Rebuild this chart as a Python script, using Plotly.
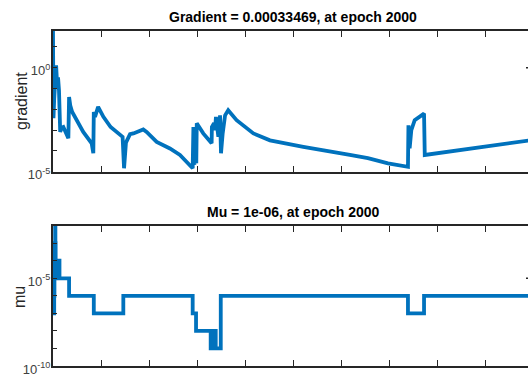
import plotly.graph_objects as go

# ---- data -------------------------------------------------------------
grad_epochs = [0, 2, 5, 13, 16, 18, 21, 25, 30, 36, 43, 50, 60, 64, 67, 72, 80, 98,
               126, 161, 168, 170, 175, 188, 210, 240, 272, 290, 296, 304, 321, 335,
               376, 390, 432, 487, 529, 571, 582, 585, 589, 593, 597, 599, 626, 661,
               662, 671, 675, 679, 689, 696, 700, 707, 717, 730, 765, 835, 904, 1043,
               1182, 1237, 1312, 1396, 1479, 1481, 1486, 1493, 1507, 1546, 1549, 2000]
grad_values = [60, 3.7e-3, 3.2e-2, 1.3, 0.25, 0.10, 0.34, 0.081, 8.1e-4, 1.3e-3,
               1.4e-3, 9.8e-4, 5.6e-4, 4.0e-4, 0.039, 0.015, 7.4e-3, 3.0e-3,
               8.1e-4, 2.3e-4, 7.6e-5, 7.4e-3, 4.3e-3, 0.013, 4.3e-3, 1.4e-3, 6.9e-4,
               4.7e-4, 1.45e-5, 2.5e-4, 6.3e-4, 6.9e-4, 1.07e-3, 8.1e-4, 2.7e-4,
               1.3e-4, 6.3e-5, 2.1e-5, 1.45e-5, 1.4e-3, 2.1e-5, 1.4e-3, 2.5e-5,
               2.1e-3, 6.9e-4, 2.3e-4, 1.4e-3, 2.1e-3, 9.8e-4, 4.3e-3, 4.7e-4,
               5.1e-3, 7.6e-5, 6.9e-4, 5.1e-3, 8.9e-3, 3.0e-3, 6.9e-4, 3.2e-4,
               1.55e-4, 7.6e-5, 6.3e-5, 4.4e-5, 2.5e-5, 1.7e-5, 1.7e-3, 1.3e-4,
               1.0e-3, 3.0e-3, 6.2e-3, 6.3e-5, 0.00033469]

mu_epochs = [0, 1, 2, 3, 4, 5, 6, 7, 8, 9, 10, 11, 15, 16, 19, 20, 23, 24, 27,
             67, 170, 293, 582, 596, 657, 660, 663, 667, 670, 674, 678, 699,
             1479, 1546, 2000]
mu_values = [1e-3, 1e-4, 1e-5, 1e-6, 1e-7, 1e-6, 1e-5, 1e-4, 1e-3, 1e-2, 1e-3,
             1e-4, 1e-5, 1e-4, 1e-5, 1e-4, 1e-5, 1e-4, 1e-5,
             1e-6, 1e-7, 1e-6, 1e-7, 1e-8, 1e-9, 1e-8, 1e-9, 1e-8, 1e-9, 1e-8,
             1e-9, 1e-6, 1e-7, 1e-6, 1e-6]

x_ticks = list(range(0, 2001, 200))
grad_decades = list(range(-5, 2))
grad_labels = {-5: "10<sup>-5</sup>", 0: "10<sup>0</sup>"}
mu_decades = list(range(-10, -1))
mu_labels = {-10: "10<sup>-10</sup>", -5: "10<sup>-5</sup>"}

# ---- layout constants ---------------------------------------------------
W, H = 528, 381
ML = 53                       # left margin (px)
X_FULL_PX = 480               # pixel width of the full 0..2000 epoch axis
X_END = 2000 * (W - ML) / X_FULL_PX
GRAD_RANGE = [-5, 1.78]
MU_RANGE = [-10, -2]
BLUE = "#0072BD"
AX = "#262626"


def py(p):
    return 1 - p / H


def px(p):
    return (p - ML) / (W - ML)


fig = go.Figure()
fig.add_trace(go.Scatter(x=grad_epochs, y=grad_values, mode="lines",
                         line=dict(color=BLUE, width=3.8),
                         xaxis="x", yaxis="y", showlegend=False))
fig.add_trace(go.Scatter(x=mu_epochs, y=mu_values, mode="lines",
                         line=dict(color=BLUE, width=3.8, shape="hv"),
                         xaxis="x2", yaxis="y2", showlegend=False))

xcommon = dict(range=[0, X_END], tickvals=x_ticks, showticklabels=False,
               ticks="inside", ticklen=6, tickwidth=1, tickcolor=AX,
               showline=True, linecolor=AX, linewidth=2, mirror="ticks",
               showgrid=False, zeroline=False, automargin=False)
ycommon = dict(type="log", ticks="inside", ticklen=4, tickwidth=1,
               tickcolor=AX, showline=True, linecolor=AX, linewidth=2,
               mirror=False, showgrid=False, zeroline=False, automargin=False,
               tickfont=dict(family="Liberation Sans, Arial", size=13,
                             color="#404040"),
               ticklabelstandoff=-2, ticklabelshift=3)

fig.update_layout(
    template="none",
    width=W, height=H,
    margin=dict(l=ML, r=0, t=0, b=0, autoexpand=False),
    paper_bgcolor="white", plot_bgcolor="white",
    xaxis=dict(domain=[0, 1], anchor="y", **xcommon),
    xaxis2=dict(domain=[0, 1], anchor="y2", **xcommon),
    yaxis=dict(domain=[py(171.6), py(30.7)], anchor="x", range=GRAD_RANGE,
               tickvals=[10 ** d for d in grad_decades],
               ticktext=[grad_labels.get(d, "") for d in grad_decades],
               **ycommon),
    yaxis2=dict(domain=[py(366), py(225.7)], anchor="x2", range=MU_RANGE,
                tickvals=[10 ** d for d in mu_decades],
                ticktext=[mu_labels.get(d, "") for d in mu_decades],
                **ycommon),
)

title_font = dict(family="Liberation Sans, Arial", size=14, color="black",
                  weight="bold")
label_font = dict(family="Liberation Sans, Arial", size=16, color=AX)
centre = px(ML + X_FULL_PX / 2)

fig.add_annotation(text=f"Gradient = {grad_values[-1]:.8g}, at epoch {grad_epochs[-1]}",
                   x=centre, y=py(16.5), xref="paper", yref="paper",
                   xanchor="center", yanchor="middle", showarrow=False,
                   font=title_font)
fig.add_annotation(text=f"Mu = {mu_values[-1]:.0e}, at epoch {mu_epochs[-1]}",
                   x=centre, y=py(212), xref="paper", yref="paper",
                   xanchor="center", yanchor="middle", showarrow=False,
                   font=title_font)
fig.add_annotation(text="gradient", textangle=-90, x=px(21), y=py(101),
                   xref="paper", yref="paper", xanchor="center",
                   yanchor="middle", showarrow=False, font=label_font)
fig.add_annotation(text="mu", textangle=-90, x=px(19), y=py(297),
                   xref="paper", yref="paper", xanchor="center",
                   yanchor="middle", showarrow=False, font=label_font)

# stubs of the right-hand major ticks at the cropped edge
for yref, dec, rng in [("y domain", 0, GRAD_RANGE), ("y2 domain", -5, MU_RANGE)]:
    f = (dec - rng[0]) / (rng[1] - rng[0])
    fig.add_shape(type="line", xref="paper", yref=yref, x0=1 - 2 / (W - ML),
                  x1=1, y0=f, y1=f, line=dict(color=AX, width=1.5))

fig.write_html("out.html")
